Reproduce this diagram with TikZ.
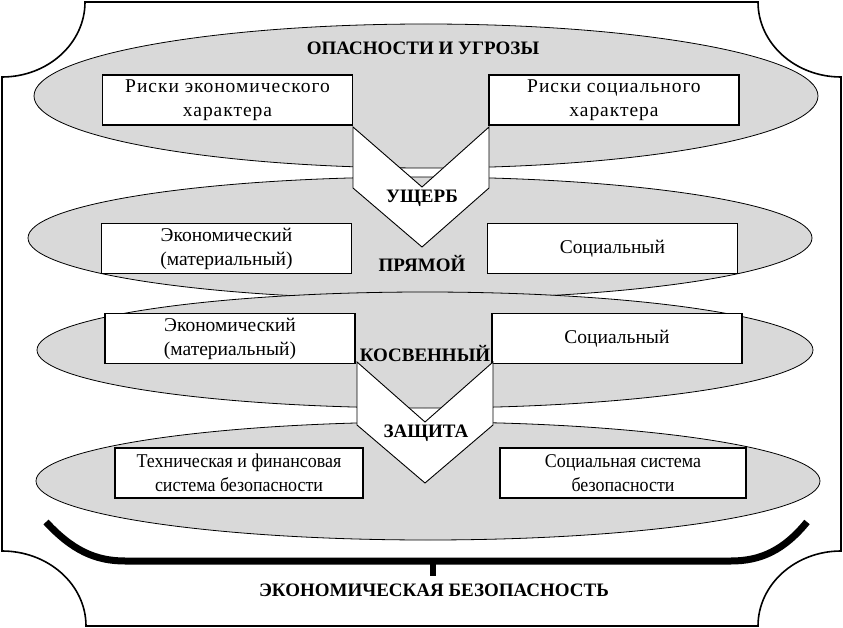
\documentclass[tikz,border=0pt]{standalone}
\usepackage{fontspec}
\setmainfont{Liberation Serif}
\newfontfamily\spacedfont{Liberation Serif}[LetterSpace=5]
\newfontfamily\condfont{Liberation Serif}[FakeStretch=0.92]
\usetikzlibrary{shapes.geometric}
\definecolor{ellgray}{RGB}{217,217,217}
\begin{document}
\begin{tikzpicture}[x=1pt,y=-1pt,
  ell/.style={ellipse, draw, fill=ellgray, line width=0.8pt, inner sep=0pt},
  box/.style={draw, fill=white, line width=1.2pt, minimum width=250pt, minimum height=50pt,
    align=center, inner sep=0pt, font=\fontsize{19.5}{24}\selectfont},
  topbox/.style={box, font=\spacedfont\fontsize{19.5}{24}\selectfont},
  condbox/.style={box, font=\condfont\fontsize{19.5}{24}\selectfont},
  lbl/.style={font=\bfseries\fontsize{19}{22}\selectfont, inner sep=0pt},
  chev/.style={draw, fill=white, line width=0.9pt, line join=miter},
  frame/.style={draw, line width=1.6pt},
  brace/.style={draw, line width=7pt}]
\useasboundingbox (0,0) rectangle (843,628);
% outer frame
\path[frame] (85,2) -- (758,2) .. controls (758,43.4) and (795.2,77) .. (841,77)
  -- (841,551) .. controls (795.2,551) and (758,584.6) .. (758,626)
  -- (86,626) .. controls (86,584.6) and (48.4,551) .. (2,551)
  -- (2,77) .. controls (47.8,77) and (85,43.4) .. (85,2) -- cycle;
% ellipses
\node[ell, minimum width=784pt, minimum height=144pt] (e1) at (426,96) {};
\node[ell, minimum width=784pt, minimum height=122pt] (e2) at (420,238) {};
\node[ell, minimum width=776pt, minimum height=116pt] (e3) at (425,350) {};
\node[ell, minimum width=784pt, minimum height=118pt] (e4) at (428,481) {};
% boxes
\node[topbox] (b1l) at (227.5,100) {Риски экономического\\характера};
\node[topbox] (b1r) at (614,100) {Риски социального\\характера};
\node[box] (b2l) at (226.5,248.5) {Экономический\\(материальный)};
\node[box] (b2r) at (612.5,248.5) {Социальный};
\node[box] (b3l) at (230,338.5) {Экономический\\(материальный)};
\node[box] (b3r) at (617,338.5) {Социальный};
\node[condbox, minimum width=248pt] (b4l) at (239,473) {Техническая и финансовая\\система безопасности};
\node[condbox, minimum width=246pt] (b4r) at (623,473) {Социальная система\\безопасности};
% chevrons
\path[chev] (353,127) -- (422,187) -- (489,127) -- (489,188) -- (422,247) -- (353,188) -- cycle;
\path[chev] (357,362) -- (425,422) -- (493,362) -- (493,425) -- (425,483) -- (357,425) -- cycle;
% labels
\node[lbl] (t1) at (423,48) {ОПАСНОСТИ И УГРОЗЫ};
\node[lbl] (t2) at (422,198) {УЩЕРБ};
\node[lbl] (t3) at (422,264) {ПРЯМОЙ};
\node[lbl] (t4) at (425,354) {КОСВЕННЫЙ};
\node[lbl] (t5) at (426,433) {ЗАЩИТА};
% bottom brace
\path[brace] (46,522) .. controls (72,550) and (95,561) .. (125,561) -- (731,561)
  .. controls (761,561) and (784,550) .. (807,522);
\path[draw, line width=6pt] (433,561) -- (433,576);
\node[lbl] (t6) at (434,590) {ЭКОНОМИЧЕСКАЯ БЕЗОПАСНОСТЬ};
\end{tikzpicture}
\end{document}
